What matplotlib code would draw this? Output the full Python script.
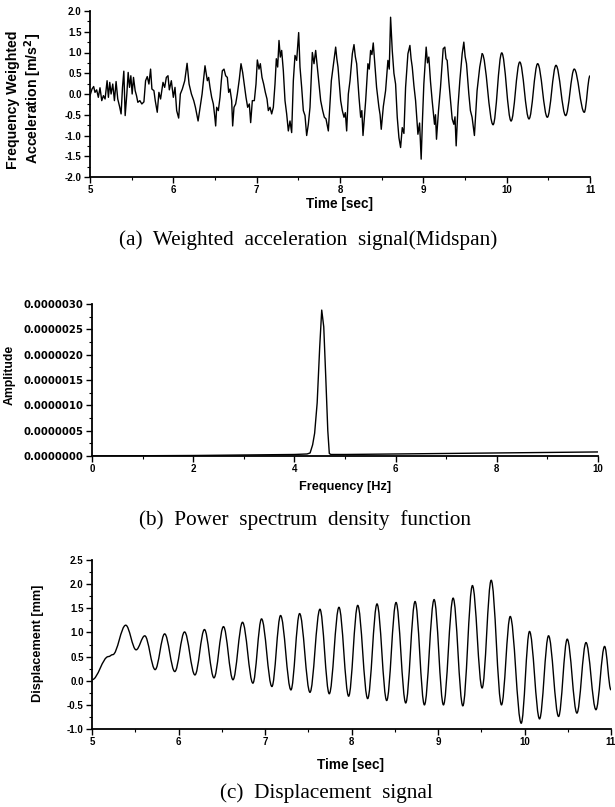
import matplotlib
matplotlib.use("Agg")
import matplotlib.pyplot as plt
from matplotlib.path import Path
from matplotlib.patches import PathPatch
from matplotlib.ticker import MultipleLocator, FormatStrFormatter

plt.rcParams['axes.unicode_minus'] = False
plt.rcParams['font.family'] = ['Liberation Sans', 'DejaVu Sans']

# ---------------- data: (a) weighted acceleration (noisy part) ----------------
acc_t = [5.000, 5.024, 5.044, 5.060, 5.080, 5.100, 5.120, 5.141, 5.161, 5.181,
         5.205, 5.221, 5.237, 5.253, 5.273, 5.293, 5.313, 5.333, 5.357, 5.373,
         5.390, 5.406, 5.422, 5.442, 5.458, 5.474, 5.490, 5.506, 5.522, 5.542,
         5.558, 5.574, 5.598, 5.622, 5.647, 5.667, 5.687, 5.707, 5.727, 5.743,
         5.767, 5.783, 5.807, 5.827, 5.847, 5.876, 5.896, 5.916, 5.936, 5.952,
         5.976, 6.000, 6.020, 6.040, 6.064, 6.084, 6.108, 6.137, 6.165, 6.189,
         6.217, 6.245, 6.265, 6.297, 6.321, 6.345, 6.380, 6.408, 6.424, 6.440,
         6.460, 6.480, 6.496, 6.508, 6.520, 6.540, 6.560, 6.576, 6.588, 6.608,
         6.628, 6.648, 6.664, 6.680, 6.700, 6.712, 6.728, 6.748, 6.768, 6.792,
         6.812, 6.832, 6.848, 6.872, 6.892, 6.912, 6.928, 6.948, 6.972, 6.992,
         7.008, 7.028, 7.044, 7.064, 7.084, 7.104, 7.124, 7.140, 7.160, 7.180,
         7.200, 7.220, 7.236, 7.252, 7.268, 7.284, 7.300, 7.320, 7.340, 7.360,
         7.380, 7.400, 7.420, 7.440, 7.460, 7.480, 7.504, 7.520, 7.540, 7.560,
         7.580, 7.600, 7.620, 7.640, 7.668, 7.688, 7.708, 7.728, 7.744, 7.768,
         7.792, 7.812, 7.832, 7.860, 7.896, 7.928, 7.948, 7.962, 7.976, 8.008,
         8.028, 8.048, 8.064, 8.080, 8.100, 8.120, 8.148, 8.168, 8.184, 8.200,
         8.228, 8.248, 8.262, 8.276, 8.308, 8.335, 8.351, 8.367, 8.383, 8.399,
         8.415, 8.439, 8.467, 8.481, 8.495, 8.520, 8.547, 8.575, 8.591, 8.607,
         8.627, 8.647, 8.667, 8.687, 8.707, 8.727, 8.747, 8.767, 8.787, 8.815,
         8.839, 8.853, 8.867, 8.887, 8.907, 8.935, 8.955, 8.974, 8.990, 9.006,
         9.034, 9.050, 9.066, 9.086, 9.106, 9.134, 9.146, 9.158, 9.182, 9.206,
         9.238, 9.258, 9.272, 9.286, 9.306, 9.326, 9.346, 9.366, 9.380, 9.394,
         9.416, 9.438, 9.466, 9.486, 9.502, 9.518, 9.546, 9.565, 9.585, 9.613,
         9.645, 9.677, 9.705]
acc_v = [-0.04, 0.12, 0.18, 0.04, 0.10, -0.08, 0.15, -0.16, -0.04, -0.12,
         0.32, -0.08, 0.28, 0.00, 0.24, -0.16, 0.30, -0.12, -0.32, -0.48,
         0.16, 0.55, -0.52, 0.00, 0.52, 0.16, 0.44, 0.00, 0.40, 0.08,
         -0.04, -0.20, -0.16, -0.24, -0.19, 0.32, 0.42, 0.24, 0.60, 0.12,
         0.08, -0.16, -0.44, 0.04, -0.12, 0.28, 0.16, 0.40, 0.44, 0.10,
         0.32, -0.08, 0.16, -0.40, -0.58, 0.00, 0.12, 0.32, 0.74, 0.24,
         0.00, -0.16, -0.32, -0.65, -0.32, 0.00, 0.68, 0.32, 0.40, 0.16,
         -0.08, -0.24, -0.52, -0.77, -0.32, -0.40, -0.08, 0.32, 0.56, 0.60,
         0.44, 0.40, 0.04, 0.12, -0.16, -0.77, -0.32, -0.24, 0.00, 0.36,
         0.73, 0.52, 0.28, -0.08, -0.32, -0.24, -0.69, -0.16, -0.16, 0.24,
         0.82, 0.60, 0.73, 0.40, 0.24, 0.04, -0.12, -0.40, -0.32, -0.48,
         -0.32, 0.24, 0.85, 0.65, 1.29, 0.89, 1.05, 0.56, -0.16, -0.48,
         -0.89, -0.65, -0.93, 0.32, 0.93, 0.81, 1.48, 0.65, 0.16, -0.40,
         -0.52, -1.00, -0.73, -0.32, 1.00, 0.73, 1.05, 0.65, 0.32, -0.16,
         -0.40, -0.56, -0.60, -0.89, 0.32, 0.81, 1.13, 0.85, 0.65, -0.16,
         -0.40, -0.56, -0.45, -0.89, 0.00, 0.32, 0.97, 1.19, 0.90, 0.73,
         -0.08, -0.56, -0.40, -1.00, -0.16, 0.73, 0.60, 1.05, 0.95, 1.23,
         0.81, 0.16, -0.32, -0.50, -0.85, -0.30, 0.08, 0.81, 0.60, 1.85,
         1.05, 0.50, 0.24, -0.56, -1.05, -1.29, -0.81, -0.95, 0.16, 0.97,
         1.17, 0.85, 0.65, 0.20, -0.16, -0.97, -0.70, -1.57, -0.60, 0.24,
         1.13, 0.75, 0.89, 0.30, -0.16, -0.73, -0.50, -1.09, -0.40, 0.16,
         1.09, 1.13, 0.85, 0.81, 0.30, -0.16, -0.60, -0.73, -0.55, -1.25,
         -0.30, 0.32, 0.97, 1.25, 0.90, 0.73, 0.00, -0.40, -0.56, -1.00,
         0.08, 0.65, 0.97]

# (a) clean decaying part: successive peaks / troughs
acc_ext_t = [9.705, 9.837, 9.941, 10.053, 10.157, 10.268, 10.372, 10.488, 10.592,
             10.708, 10.811, 10.931, 11.000]
acc_ext_v = [0.97, -0.74, 0.99, -0.65, 0.77, -0.60, 0.73, -0.56, 0.69,
             -0.52, 0.60, -0.44, 0.44]

# ---------------- data: (b) power spectrum ----------------
psd_f = [0.0, 1.0, 2.0, 3.0, 4.0, 4.25, 4.31, 4.36, 4.40, 4.45, 4.50, 4.54, 4.58,
         4.62, 4.66, 4.69, 4.72, 5.0, 6.0, 7.0, 8.0, 9.0, 10.0]
psd_a = [0.0, 0.005e-6, 0.01e-6, 0.02e-6, 0.03e-6, 0.04e-6, 0.06e-6, 0.22e-6,
         0.45e-6, 1.05e-6, 2.15e-6, 2.88e-6, 2.55e-6, 1.55e-6, 0.50e-6, 0.05e-6,
         0.03e-6, 0.03e-6, 0.04e-6, 0.05e-6, 0.06e-6, 0.07e-6, 0.08e-6]

# ---------------- data: (c) displacement: peaks / troughs ----------------
disp_t = [5.00, 5.19, 5.24, 5.39, 5.51, 5.61, 5.73, 5.84, 5.957, 6.07, 6.19, 6.30,
          6.41, 6.52, 6.63, 6.74, 6.86, 6.96, 7.08, 7.18, 7.30, 7.40, 7.52, 7.635,
          7.743, 7.855, 7.967, 8.072, 8.187, 8.295, 8.407, 8.515, 8.627, 8.735,
          8.843, 8.955, 9.063, 9.175, 9.287, 9.398, 9.51, 9.615, 9.734, 9.835,
          9.962, 10.058, 10.174, 10.278, 10.394, 10.494, 10.606, 10.711, 10.826,
          10.926, 11.0]
disp_v = [0.02, 0.50, 0.54, 1.15, 0.64, 0.93, 0.23, 0.97, 0.19, 1.01, 0.12, 1.06,
          0.06, 1.12, 0.02, 1.21, -0.05, 1.28, -0.12, 1.35, -0.19, 1.39, -0.24, 1.48,
          -0.27, 1.52, -0.32, 1.56, -0.37, 1.59, -0.41, 1.62, -0.46, 1.64,
          -0.50, 1.68, -0.50, 1.71, -0.52, 1.97, -0.15, 2.08, -0.50, 1.33,
          -0.88, 1.02, -0.79, 0.93, -0.74, 0.86, -0.67, 0.79, -0.60,
          0.71, -0.19]

W, H = 615, 807
fig = plt.figure(figsize=(W / 100, H / 100), dpi=100)


def px_axes(l, t, r, b):
    return fig.add_axes([l / W, 1 - b / H, (r - l) / W, (b - t) / H])


def smooth_path(ts, vs, handle=0.36):
    verts = [(ts[0], vs[0])]
    codes = [Path.MOVETO]
    for i in range(len(ts) - 1):
        dt = ts[i + 1] - ts[i]
        verts += [(ts[i] + handle * dt, vs[i]), (ts[i + 1] - handle * dt, vs[i + 1]),
                  (ts[i + 1], vs[i + 1])]
        codes += [Path.CURVE4] * 3
    return Path(verts, codes)


def style(ax, xmaj, xmin, ymaj, ymin, yfmt, xfmt='%d', yfam='Liberation Sans',
          ysize=7):
    for s in ('top', 'right'):
        ax.spines[s].set_visible(False)
    for s in ('left', 'bottom'):
        ax.spines[s].set_linewidth(1.3)
    ax.xaxis.set_major_locator(MultipleLocator(xmaj))
    ax.xaxis.set_minor_locator(MultipleLocator(xmin))
    ax.yaxis.set_major_locator(MultipleLocator(ymaj))
    ax.yaxis.set_minor_locator(MultipleLocator(ymin))
    ax.yaxis.set_major_formatter(FormatStrFormatter(yfmt))
    ax.xaxis.set_major_formatter(FormatStrFormatter(xfmt))
    ax.tick_params(which='major', direction='out', length=4, width=1.0, pad=2)
    ax.tick_params(which='minor', direction='out', length=2.5, width=0.8)
    for lab in ax.get_xticklabels():
        lab.set_fontweight('bold')
        lab.set_fontsize(7)
    for lab in ax.get_yticklabels():
        lab.set_fontweight('bold')
        lab.set_fontsize(ysize)
        lab.set_family([yfam, 'DejaVu Sans'])
    ax.patch.set_alpha(0)


lbl = dict(fontweight='bold', family=['Liberation Sans', 'DejaVu Sans'])
cap = dict(fontsize=15.3, family=['Liberation Serif', 'DejaVu Serif'])

# ---- panel (a)
axa = px_axes(90, 11, 590, 177)
axa.plot(acc_t, acc_v, color='black', lw=1.0)
axa.add_patch(PathPatch(smooth_path(acc_ext_t, acc_ext_v), facecolor='none',
                        edgecolor='black', lw=1.0))
axa.set_xlim(5, 11)
axa.set_ylim(-2, 2)
style(axa, 1, 0.5, 0.5, 0.25, '%.1f')
fig.text(13 / W, 1 - 100 / H, 'Frequency Weighted', rotation=90, ha='center',
         va='center', fontsize=10.2, **lbl)
fig.text(33 / W, 1 - 98 / H, r'Acceleration [m/s$^\mathbf{2}$]', rotation=90,
         ha='center', va='center', fontsize=10.2, **lbl)
fig.text(340 / W, 1 - 204 / H, 'Time [sec]', ha='center', va='center',
         fontsize=9.8, **lbl)
fig.text(308 / W, 1 - 240 / H, '(a)  Weighted  acceleration  signal(Midspan)',
         ha='center', va='center', **cap)

# ---- panel (b)
axb = px_axes(92, 304, 598, 456)
axb.plot(psd_f, psd_a, color='black', lw=1.0)
axb.set_xlim(0, 10)
axb.set_ylim(0, 3e-6)
style(axb, 2, 1, 0.5e-6, 0.25e-6, '%.7f', yfam='DejaVu Sans', ysize=7.3)
fig.text(10 / W, 1 - 375 / H, 'Amplitude', rotation=90, ha='center', va='center',
         fontsize=8.8, **lbl)
fig.text(345 / W, 1 - 487 / H, 'Frequency [Hz]', ha='center', va='center',
         fontsize=9.2, **lbl)
fig.text(305 / W, 1 - 520 / H, '(b)  Power  spectrum  density  function',
         ha='center', va='center', **cap)

# ---- panel (c)
axc = px_axes(92, 560, 611, 729)
axc.add_patch(PathPatch(smooth_path(disp_t, disp_v), facecolor='none',
                        edgecolor='black', lw=1.0))
axc.set_xlim(5, 11)
axc.set_ylim(-1, 2.5)
style(axc, 1, 0.5, 0.5, 0.25, '%.1f')
fig.text(38 / W, 1 - 643 / H, 'Displacement [mm]', rotation=90, ha='center',
         va='center', fontsize=9.2, **lbl)
fig.text(351 / W, 1 - 765 / H, 'Time [sec]', ha='center', va='center',
         fontsize=9.8, **lbl)
fig.text(326 / W, 1 - 793 / H, '(c)  Displacement  signal', ha='center',
         va='center', **cap)

fig.savefig('out.png', dpi=100)
